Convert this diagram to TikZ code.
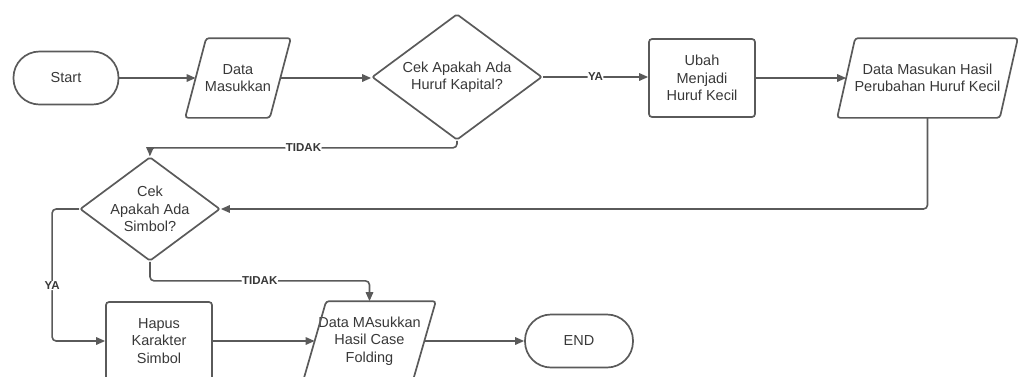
\documentclass[tikz,border=0pt]{standalone}
\usepackage{fontspec}
\setmainfont{Liberation Sans}
\usetikzlibrary{shapes.geometric,arrows.meta}
\definecolor{linec}{HTML}{5A5A5A}
\definecolor{textc}{HTML}{383838}
\tikzset{
  base/.style={draw=linec, line width=1.7pt, text=textc, align=center, inner sep=0pt,
    font=\fontsize{14.5}{17.5}\selectfont},
  terminal/.style={base, rectangle, rounded corners=26pt, minimum height=53pt},
  process/.style={base, rectangle, rounded corners=3pt, minimum width=106pt, minimum height=78pt},
  decision/.style={draw=linec, line width=1.7pt, diamond, rounded corners=2pt, inner sep=0pt,
    label={[text=textc, align=center, font=\fontsize{14.5}{17.5}\selectfont]center:#1}},
  ioshape/.style={base, draw=none, rectangle, minimum height=78pt},
  ioframe/.style={draw=linec, line width=1.7pt, rounded corners=3pt, line join=round},
  conn/.style={draw=linec, line width=1.6pt, rounded corners=4pt,
    -{Triangle[length=9pt, width=7.5pt]}},
  lbl/.style={fill=white, text=textc, inner sep=0.5pt, font=\fontsize{11.5}{12}\selectfont\bfseries}
}
\begin{document}
\begin{tikzpicture}[x=1pt, y=-1pt]
  \useasboundingbox (0,0) rectangle (1018,376);
  \clip (0,0) rectangle (1018,376);

  % first row
  \node[terminal, minimum width=105pt] (start) at (66,78) {Start};
  \node[ioshape, minimum width=83pt] (dm) at (238,78) {Data\\Masukkan};
  \node[decision={Cek Apakah Ada\\Huruf Kapital?}, minimum width=170pt, minimum height=126pt]
    (d1) at (457,77) {};
  \node[process] (ub) at (702,78) {Ubah\\Menjadi\\Huruf Kecil};
  \node[ioshape, minimum width=161pt] (dh) at (927.5,78) {Data Masukan Hasil\\Perubahan Huruf Kecil};

  % second row
  \node[decision={Cek\\Apakah Ada\\Simbol?}, minimum width=140pt, minimum height=104pt]
    (d2) at (150,209) {};

  % third row
  \node[process] (hp) at (159,341) {Hapus\\Karakter\\Simbol};
  \node[ioshape, minimum width=108pt] (df) at (369.5,341) {Data MAsukkan\\Hasil Case\\Folding};
  \node[terminal, minimum width=108pt] (end) at (579,341) {END};

  % slanted frames of the data nodes
  \foreach \n/\s in {dm/10.5, dh/9, df/11.5}{
    \draw[ioframe] ([xshift=\s pt]\n.north west) -- ([xshift=\s pt]\n.north east)
      -- ([xshift=-\s pt]\n.south east) -- ([xshift=-\s pt]\n.south west) -- cycle;
  }

  % connectors
  \draw[conn] (start.east) -- (dm.west);
  \draw[conn] (dm.east) -- (dm.east -| d1.west);
  \draw[conn] (d1.east) -- node[lbl] {YA} (d1.east -| ub.west);
  \draw[conn] (ub.east) -- (dh.west);
  \draw[conn] (dh.south) |- (d2.east);
  \draw[conn] (d1.south) -- ++(0,7) -| node[lbl, pos=0.25] {TIDAK} (d2.north);
  \draw[conn] (d2.west) -- ++(-27,0) |- node[lbl, pos=0.29] {YA} (hp.west);
  \draw[conn] (d2.south) -- ++(0,19) -| node[lbl, pos=0.25] {TIDAK} (df.north);
  \draw[conn] (hp.east) -- (df.west);
  \draw[conn] (df.east) -- (end.west);
\end{tikzpicture}
\end{document}
